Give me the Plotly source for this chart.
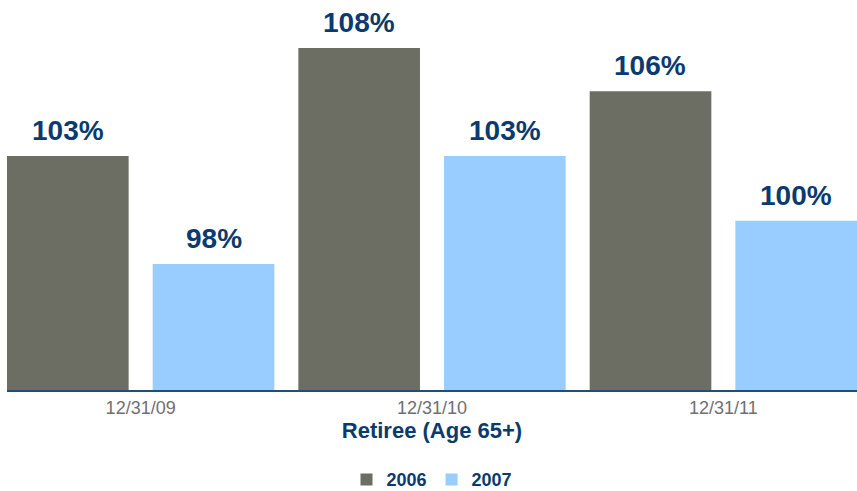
import plotly.graph_objects as go

categories = ["12/31/09", "12/31/10", "12/31/11"]
series_names = ["2006", "2007"]
values_2006 = [103, 108, 106]
values_2007 = [98, 103, 100]
colors = ["#6d6e63", "#99ccff"]
navy = "#0b3a6e"

fig = go.Figure()
for name, vals, col in zip(series_names, [values_2006, values_2007], colors):
    fig.add_trace(go.Bar(name=name, x=categories, y=vals, marker=dict(color=col, line=dict(width=0)),
                         hoverinfo="skip"))

g = 0.165
# value labels
shift = 73
for vals, xs in zip([values_2006, values_2007], [-shift, shift]):
    for c, v in zip(categories, vals):
        fig.add_annotation(x=c, y=v, xref="x", yref="y", text=f"<b>{v}%</b>", showarrow=False,
                           yanchor="bottom", xanchor="center", xshift=xs, yshift=8,
                           font=dict(size=28, color=navy, family="Liberation Sans, Arial"))

fig.update_layout(
    width=857, height=491,
    margin=dict(l=7, r=0, t=0, b=101, autoexpand=False),
    barmode="group", bargap=0, bargroupgap=g,
    plot_bgcolor="white", paper_bgcolor="white",
    font=dict(family="Liberation Sans, Arial", color=navy),
    showlegend=True,
    legend=dict(orientation="h", x=0.5, xanchor="center", y=-0.23, yanchor="middle",
                font=dict(size=18, color=navy, family="Liberation Sans, Arial", weight="bold"),
                itemwidth=30, traceorder="normal"),
    xaxis=dict(range=[-0.5 + 0.25 * g, 2.5 - 0.25 * g], showline=True, linecolor="#1f5070", linewidth=2,
               ticks="", tickfont=dict(size=18, color="#707070"), automargin=False,
               title=dict(text="<b>Retiree (Age 65+)</b>", font=dict(size=22, color=navy), standoff=3)),
    yaxis=dict(range=[92.17, 110.22], visible=False, showgrid=False, automargin=False),
)

fig.write_html("out.html")
